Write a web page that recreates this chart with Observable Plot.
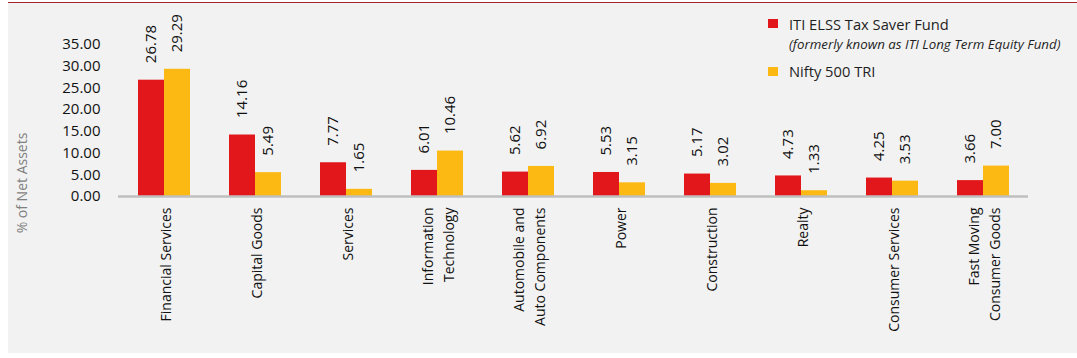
<!DOCTYPE html>
<html>
<head>
<meta charset="utf-8">
<script src="https://cdn.jsdelivr.net/npm/d3@7"></script>
<script src="https://cdn.jsdelivr.net/npm/@observablehq/plot@0.6"></script>
<style>
  html, body { margin: 0; padding: 0; background: #ffffff; }
  #wrap { position: relative; width: 1077px; height: 358px; overflow: hidden; font-family: "Open Sans", sans-serif; }
  #panel { position: absolute; left: 8px; top: 2px; width: 1069px; height: 351px; background: #f2f2f2; border-top: 1.5px solid #a3262b; box-sizing: border-box; }
  #chart { position: absolute; left: 0; top: 0; }
  #ytitle { position: absolute; left: 21px; top: 183px; transform: translate(-50%, -50%) rotate(-90deg); white-space: nowrap; font-size: 14px; color: #7f7f7f; }
  .leg { position: absolute; white-space: nowrap; color: #1f1f1f; }
  .sw { position: absolute; width: 10px; height: 9px; }
</style>
</head>
<body>
<div id="wrap">
  <div id="panel"></div>
  <div id="chart"></div>
  <div id="ytitle">% of Net Assets</div>
  <div class="sw" style="left:768px; top:19px; background:#e2171b;"></div>
  <div class="leg" style="left:789px; top:14px; font-size:14.7px;">ITI ELSS Tax Saver Fund</div>
  <div class="leg" style="left:789px; top:35px; font-size:13.3px; font-style:italic;">(formerly known as ITI Long Term Equity Fund)</div>
  <div class="sw" style="left:768px; top:67px; background:#fdb913;"></div>
  <div class="leg" style="left:789px; top:61px; font-size:14.7px;">Nifty 500 TRI</div>
</div>
<script>
const categories = [
  "Financial Services", "Capital Goods", "Services", "Information\nTechnology",
  "Automobile and\nAuto Components", "Power", "Construction", "Realty",
  "Consumer Services", "Fast Moving\nConsumer Goods"
];
const seriesNames = ["ITI ELSS Tax Saver Fund", "Nifty 500 TRI"];
const fundValues  = [26.78, 14.16, 7.77, 6.01, 5.62, 5.53, 5.17, 4.73, 4.25, 3.66];
const indexValues = [29.29, 5.49, 1.65, 10.46, 6.92, 3.15, 3.02, 1.33, 3.53, 7.00];
const yTicks = [0, 5, 10, 15, 20, 25, 30, 35];
const seriesColors = ["#e2171b", "#fdb913"];

const table = [];
categories.forEach((c, i) => {
  table.push({category: c, series: seriesNames[0], value: fundValues[i]});
  table.push({category: c, series: seriesNames[1], value: indexValues[i]});
});

const chart = Plot.plot({
  width: 1077,
  height: 358,
  marginLeft: 118,
  marginRight: 49,
  marginTop: 44,
  marginBottom: 162,
  style: { background: "transparent", fontFamily: "'Open Sans', sans-serif", overflow: "visible" },
  fx: { domain: categories, padding: 0 },
  x: { domain: seriesNames, paddingInner: 0, paddingOuter: 0.75, axis: null },
  y: { domain: [0, 35] },
  color: { domain: seriesNames, range: seriesColors },
  marks: [
    Plot.barY(table, { fx: "category", x: "series", y: "value", fill: "series", inset: 0 }),
    Plot.ruleY([0], { stroke: "#bfbfbf", strokeWidth: 2.5 }),
    Plot.text(table, {
      fx: "category", x: "series", y: "value",
      text: d => d.value.toFixed(2),
      rotate: -90, textAnchor: "start", lineAnchor: "middle",
      dy: -17, fontSize: 15, fill: "#111111"
    }),
    Plot.axisY({
      ticks: yTicks, tickFormat: d => d.toFixed(2), tickSize: 0, tickPadding: 18,
      fontSize: 15, fill: "#111111", label: null
    }),
    Plot.axisFx({
      anchor: "bottom", tickSize: 0, tickRotate: -90, textAnchor: "end", lineAnchor: "middle",
      tickPadding: 11, fontSize: 14, lineHeight: 1.45, fill: "#111111", label: null
    })
  ]
});
document.getElementById("chart").appendChild(chart);
</script>
</body>
</html>
